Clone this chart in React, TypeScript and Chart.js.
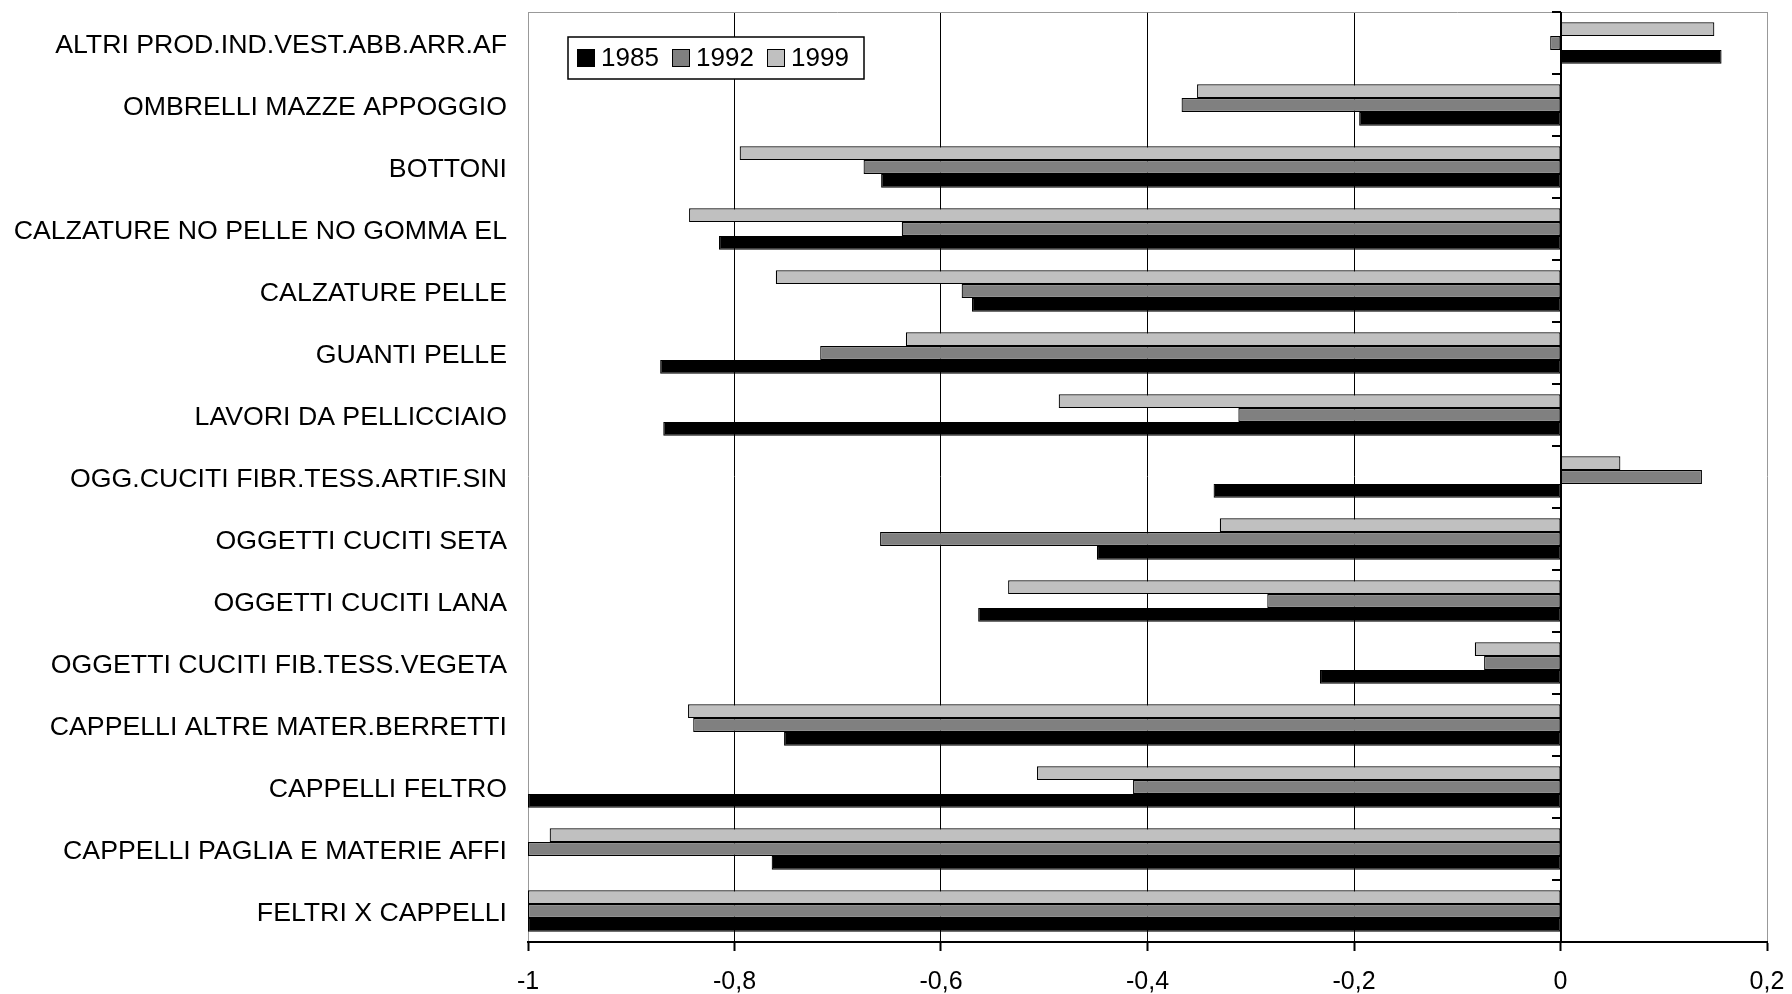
import React, { useEffect, useRef } from "react";
import { Chart, registerables } from "chart.js";

Chart.register(...registerables);

const categories = [
  "ALTRI PROD.IND.VEST.ABB.ARR.AF",
  "OMBRELLI MAZZE APPOGGIO",
  "BOTTONI",
  "CALZATURE NO PELLE NO GOMMA EL",
  "CALZATURE PELLE",
  "GUANTI PELLE",
  "LAVORI DA PELLICCIAIO",
  "OGG.CUCITI FIBR.TESS.ARTIF.SIN",
  "OGGETTI CUCITI SETA",
  "OGGETTI CUCITI LANA",
  "OGGETTI CUCITI FIB.TESS.VEGETA",
  "CAPPELLI ALTRE MATER.BERRETTI",
  "CAPPELLI FELTRO",
  "CAPPELLI PAGLIA E MATERIE AFFI",
  "FELTRI X CAPPELLI",
];

const values1985 = [0.156, -0.195, -0.658, -0.815, -0.57, -0.872, -0.869, -0.336, -0.449, -0.564, -0.233, -0.752, -1.0, -0.764, -1.0];
const values1992 = [-0.01, -0.367, -0.675, -0.638, -0.58, -0.717, -0.312, 0.137, -0.659, -0.284, -0.074, -0.84, -0.414, -1.0, -1.0];
const values1999 = [0.149, -0.352, -0.795, -0.844, -0.76, -0.634, -0.486, 0.058, -0.33, -0.535, -0.083, -0.845, -0.507, -0.979, -1.0];

const seriesNames = ["1985", "1992", "1999"];
const seriesColors = ["#000000", "#808080", "#c0c0c0"];

const xMin = -1;
const xMax = 0.2;
const xStep = 0.2;

const FONT = "'Liberation Sans', Arial, sans-serif";

const framePlugin = {
  id: "frame",
  beforeDatasetsDraw(chart: any) {
    const { ctx, chartArea } = chart;
    ctx.save();
    ctx.strokeStyle = "#999999";
    ctx.lineWidth = 1;
    ctx.beginPath();
    ctx.moveTo(chartArea.left, chartArea.top + 0.5);
    ctx.lineTo(chartArea.right, chartArea.top + 0.5);
    ctx.stroke();
    ctx.restore();
  },
  afterDatasetsDraw(chart: any) {
    const { ctx, chartArea, scales } = chart;
    const x0 = Math.round(scales.x.getPixelForValue(0));
    ctx.save();
    ctx.strokeStyle = "#000000";
    ctx.lineWidth = 2;
    ctx.beginPath();
    ctx.moveTo(x0, chartArea.top);
    ctx.lineTo(x0, chartArea.bottom);
    ctx.stroke();
    const n = categories.length;
    const h = (chartArea.bottom - chartArea.top) / n;
    ctx.lineWidth = 2;
    for (let i = 0; i <= n; i++) {
      const y = Math.round(chartArea.top + i * h);
      ctx.beginPath();
      ctx.moveTo(x0 - 9, y);
      ctx.lineTo(x0, y);
      ctx.stroke();
    }
    ctx.restore();
  },
  afterDraw(chart: any) {
    const { ctx, chartArea } = chart;
    const bx = chartArea.left + 40;
    const by = chartArea.top + 25;
    const bw = 296;
    const bh = 42;
    ctx.save();
    ctx.fillStyle = "#ffffff";
    ctx.fillRect(bx, by, bw, bh);
    ctx.strokeStyle = "#000000";
    ctx.lineWidth = 1.5;
    ctx.strokeRect(bx, by, bw, bh);
    ctx.font = `26px ${FONT}`;
    ctx.textBaseline = "middle";
    ctx.textAlign = "left";
    let x = bx + 9;
    const cy = by + bh / 2;
    for (let i = 0; i < seriesNames.length; i++) {
      ctx.fillStyle = seriesColors[i];
      ctx.fillRect(x, cy - 9, 18, 18);
      ctx.strokeStyle = "#000000";
      ctx.lineWidth = 1;
      ctx.strokeRect(x + 0.5, cy - 8.5, 17, 17);
      ctx.fillStyle = "#000000";
      ctx.fillText(seriesNames[i], x + 24, cy + 1);
      x += 95;
    }
    ctx.restore();
  },
};

export default function App() {
  const canvasRef = useRef<HTMLCanvasElement | null>(null);

  useEffect(() => {
    document.body.style.margin = "0";
    const canvas = canvasRef.current;
    if (!canvas) return;
    const chart = new Chart(canvas, {
      type: "bar",
      data: {
        labels: categories,
        datasets: [
          { label: "1999", data: values1999, backgroundColor: seriesColors[2] },
          { label: "1992", data: values1992, backgroundColor: seriesColors[1] },
          { label: "1985", data: values1985, backgroundColor: seriesColors[0] },
        ].map((d) => ({
          ...d,
          borderColor: "#000000",
          borderWidth: 1.2,
          borderSkipped: false,
          categoryPercentage: 0.67,
          barPercentage: 1.0,
        })),
      },
      options: {
        indexAxis: "y",
        animation: false,
        responsive: false,
        devicePixelRatio: 1,
        layout: { padding: { top: 12, right: 25, left: 0, bottom: 0 } },
        plugins: {
          legend: { display: false },
          tooltip: { enabled: false },
        },
        scales: {
          x: {
            type: "linear",
            min: xMin,
            max: xMax,
            afterFit: (scale: any) => {
              scale.height = 52;
              scale.paddingLeft = 0;
              scale.paddingRight = 0;
            },
            ticks: {
              stepSize: xStep,
              color: "#000000",
              padding: 16,
              font: { family: FONT, size: 25 },
              callback: (v: any) => {
                const r = Math.round(Number(v) * 10) / 10;
                return String(r).replace(".", ",");
              },
            },
            grid: {
              color: (ctx: any) => {
                const v = ctx.tick ? ctx.tick.value : 0;
                if (Math.abs(v - xMin) < 1e-6 || Math.abs(v - xMax) < 1e-6) return "#999999";
                return "#000000";
              },
              lineWidth: 1,
              drawTicks: true,
              tickLength: 9,
              tickColor: "#000000",
              tickWidth: 2,
            },
            border: { display: true, color: "#000000", width: 2 },
          },
          y: {
            type: "category",
            afterFit: (scale: any) => {
              scale.width = 528;
              scale.paddingTop = 0;
              scale.paddingBottom = 0;
            },
            ticks: {
              color: "#000000",
              padding: 21,
              labelOffset: 3,
              font: { family: FONT, size: 26.7 },
            },
            grid: { display: false, drawTicks: false },
            border: { display: false },
          },
        },
      },
      plugins: [framePlugin],
    } as any);
    return () => chart.destroy();
  }, []);

  return (
    <div style={{ position: "absolute", left: 0, top: 0, width: 1792, height: 994, background: "#ffffff" }}>
      <canvas ref={canvasRef} width={1792} height={994} style={{ display: "block" }} />
    </div>
  );
}
